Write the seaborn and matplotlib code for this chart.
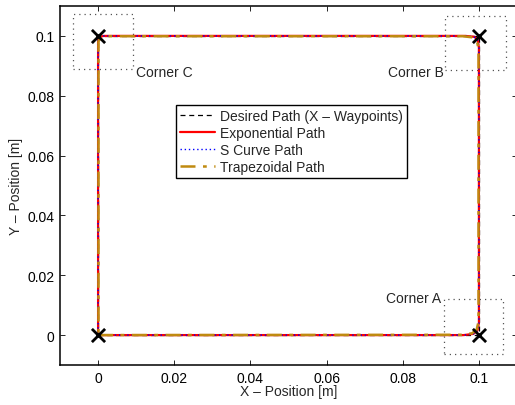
import matplotlib
matplotlib.use("Agg")
import matplotlib.pyplot as plt
import seaborn as sns
import pandas as pd

# Waypoints of the square move (corners A, B, C and the origin)
way_x = [0.0, 0.1, 0.1, 0.0, 0.0]
way_y = [0.0, 0.0, 0.1, 0.1, 0.0]

# Measured tool paths (x, y in metres), corners rounded by each profile
exp_x = [0.0, 0.0960, 0.0985, 0.0996, 0.1000, 0.1000, 0.0997, 0.0988, 0.0965, 0.0015, 0.0004, 0.0000, 0.0000]
exp_y = [0.0, 0.0000, 0.0004, 0.0015, 0.0040, 0.0960, 0.0987, 0.0997, 0.1000, 0.1000, 0.0997, 0.0988, 0.0000]

scv_x = [0.0, 0.0962, 0.0986, 0.0996, 0.1000, 0.1000, 0.0997, 0.0987, 0.0963, 0.0014, 0.0004, 0.0000, 0.0000]
scv_y = [0.0, 0.0000, 0.0004, 0.0015, 0.0038, 0.0962, 0.0986, 0.0997, 0.1000, 0.1000, 0.0997, 0.0988, 0.0000]

trp_x = [0.0, 0.0955, 0.0982, 0.0994, 0.0999, 0.0999, 0.0995, 0.0984, 0.0958, 0.0020, 0.0007, 0.0001, 0.0001]
trp_y = [0.0, 0.0001, 0.0006, 0.0018, 0.0045, 0.0955, 0.0982, 0.0995, 0.0999, 0.0999, 0.0994, 0.0982, 0.0000]

corner_names = ["Corner A", "Corner B", "Corner C"]
# label anchor of each corner name
label_x = [0.0902, 0.0909, 0.0100]
label_y = [0.0124, 0.0879, 0.0879]
label_ha = ["right", "right", "left"]
# dotted zoom boxes around each corner: (x0, x1, y0, y1)
box_x0 = [0.0908, 0.0911, -0.0066]
box_x1 = [0.1063, 0.1071, 0.0092]
box_y0 = [-0.0063, 0.0885, 0.0889]
box_y1 = [0.0120, 0.1066, 0.1073]

tick_vals = [0, 0.02, 0.04, 0.06, 0.08, 0.1]
tick_text = ["0", "0.02", "0.04", "0.06", "0.08", "0.1"]

sns.set_style("ticks")
plt.rcParams["font.family"] = ["Liberation Sans", "DejaVu Sans"]
plt.rcParams["font.size"] = 10

fig = plt.figure(figsize=(5.15, 4.06), dpi=100)
ax = fig.add_axes([60 / 515, 40 / 406, 457 / 515, 359 / 406])


def path_df(xs, ys):
    return pd.DataFrame({"x": xs, "y": ys})


sns.lineplot(data=path_df(way_x, way_y), x="x", y="y", sort=False, estimator=None,
             ax=ax, color="black", linestyle=(0, (4, 3)), linewidth=0.9,
             label="Desired Path (X \u2013 Waypoints)")
sns.lineplot(data=path_df(exp_x, exp_y), x="x", y="y", sort=False, estimator=None,
             ax=ax, color="#ff0000", linewidth=1.6, label="Exponential Path")
sns.lineplot(data=path_df(scv_x, scv_y), x="x", y="y", sort=False, estimator=None,
             ax=ax, color="#0000ff", linestyle=(0, (1, 2)), linewidth=1.0,
             label="S Curve Path")
sns.lineplot(data=path_df(trp_x, trp_y), x="x", y="y", sort=False, estimator=None,
             ax=ax, color="#c08a10", linestyle=(0, (6, 3, 1.5, 3)), linewidth=1.8,
             label="Trapezoidal Path")

# waypoint crosses
sns.scatterplot(x=way_x[:4], y=way_y[:4], ax=ax, marker="x", s=90, color="black",
                linewidth=2.0, zorder=6, legend=False)

# dotted boxes around corners
for x0, x1, y0, y1 in zip(box_x0, box_x1, box_y0, box_y1):
    ax.plot([x0, x1, x1, x0, x0], [y0, y0, y1, y1, y0], color="#555555",
            linestyle=(0, (1, 3.2)), linewidth=0.9, zorder=1)

for name, lx, ly, ha in zip(corner_names, label_x, label_y, label_ha):
    ax.text(lx, ly, name, ha=ha, va="center", fontsize=10)

ax.set_xlim(-0.01, 0.11)
ax.set_ylim(-0.01, 0.11)
ax.set_xticks(tick_vals)
ax.set_xticklabels(tick_text)
ax.set_yticks(tick_vals)
ax.set_yticklabels(tick_text)
ax.tick_params(direction="in", length=3.5, width=0.6, top=True, right=True,
               labelsize=10, colors="black")
ax.tick_params(axis="x", pad=4)
ax.tick_params(axis="y", pad=4)
for sp in ax.spines.values():
    sp.set_visible(True)
    sp.set_linewidth(1.1)
    sp.set_color("black")

ax.set_xlabel("X \u2013 Position [m]", fontsize=10, labelpad=-0.5)
ax.set_ylabel("Y \u2013 Position [m]", fontsize=10, labelpad=3)

leg = ax.legend(loc="upper left", bbox_to_anchor=(0.254, 0.724), borderaxespad=0,
                frameon=True, fancybox=False, fontsize=10, handlelength=2.5,
                handletextpad=0.36, labelspacing=0.2, borderpad=0.3)
leg.get_frame().set_edgecolor("black")
leg.get_frame().set_linewidth(1.0)
leg.get_frame().set_alpha(1)

fig.savefig("out.png", dpi=100)
